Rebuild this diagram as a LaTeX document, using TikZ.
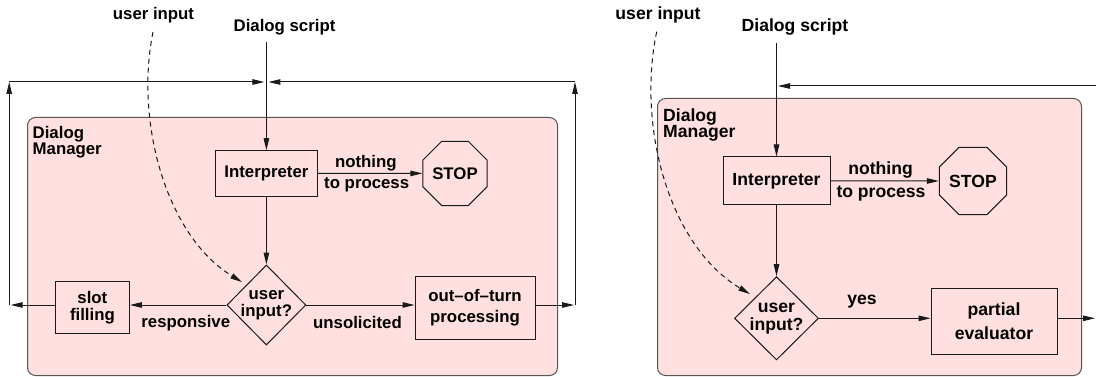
\documentclass[tikz,border=0pt]{standalone}
\usepackage{fontspec}
\setmainfont{Liberation Sans}
\usetikzlibrary{shapes.geometric,arrows.meta}
\definecolor{dmpink}{RGB}{255,223,223}
\definecolor{dmedge}{RGB}{85,85,85}
\tikzset{
  fl/.style={line width=1pt, draw=black!90, -{Triangle[length=12pt,width=5.5pt]}},
  box/.style={draw=black!90, line width=1pt, inner sep=0pt, align=center},
  dmbox/.style={draw=dmedge, line width=1pt, fill=dmpink, rounded corners=8pt, inner sep=0pt, anchor=north west},
  oct/.style={draw=black!90, line width=1pt, regular polygon, regular polygon sides=8, inner sep=0pt},
  dia/.style={draw=black!90, line width=1pt, diamond, inner sep=0pt},
  txt/.style={inner sep=0pt, align=center},
  fontL/.style={font=\fontsize{16.8pt}{17pt}\selectfont\bfseries},
  fontR/.style={font=\fontsize{17.6pt}{17.8pt}\selectfont\bfseries},
}
\begin{document}
\begin{tikzpicture}[x=1pt,y=-1pt]
\useasboundingbox (0,0) rectangle (1096,377);

% ---------------- left diagram ----------------
\begin{scope}[fontL]
\node[dmbox, minimum width=530, minimum height=258] (dmL) at (27,117) {};
\node[txt] (uiL) at (153.5,15) {user input};
\node[txt] (dsL) at (284.5,27) {Dialog script};
\node[txt, anchor=west, align=left, font=\fontsize{16.8pt}{16.5pt}\selectfont\bfseries] (dmtL) at (32.5,142) {Dialog\\Manager};
\node[box, minimum width=102.6, minimum height=45.3] (intL) at (266.4,173.4) {Interpreter};
\node[oct, minimum size=62.8] (stopL) at (455,173.4) {STOP};
\node[dia, minimum width=79, minimum height=80] (diaL) at (266.4,305) {};
\node[txt] (diatL) at (diaL) {user\\input?};
\node[box, minimum width=74, minimum height=51.6] (slotL) at (92.4,307.5) {slot\\filling};
\node[box, minimum width=120, minimum height=63.3, font=\fontsize{16.8pt}{21pt}\selectfont\bfseries] (ootL) at (475,307.7) {out--of--turn\\processing};
\node[txt] (nothL) at (365.8,162.7) {nothing};
\node[txt] (tprL) at (366.7,185) {to process};
\node[txt] (respL) at (185.8,322.7) {responsive};
\node[txt] (unsL) at (357.5,322.7) {unsolicited};

\coordinate (dsLs) at (266.4,42);
\coordinate (topL) at (266.4,82);
\coordinate (lbL) at (9.2,305);
\coordinate (ltL) at (9.2,82);
\coordinate (rbL) at (575,305);
\coordinate (rtL) at (575,82);
\coordinate (uiLs) at (153,32);

\draw[fl] (dsLs) -- (intL.north);
\draw[fl] (intL.east) -- (stopL.west);
\draw[fl] (intL.south) -- (diaL.north);
\draw[fl] (diaL.west) -- (diaL.west -| slotL.east);
\draw[fl] (diaL.east) -- (diaL.east -| ootL.west);
\draw[fl] (diaL.east -| ootL.east) -- ([xshift=-1]rbL);
\draw[fl] (diaL.west -| slotL.west) -- ([xshift=1.5]lbL);
\draw[fl] (lbL) -- (ltL);
\draw[fl] (ltL) -- ([xshift=-2]topL);
\draw[fl] (rbL) -- (rtL);
\draw[fl] (rtL) -- ([xshift=2]topL);
\draw[fl, dash pattern=on 5pt off 4pt, shorten >=5pt] (uiLs) .. controls (135,120) and (165,235) .. (diaL.north west);
\end{scope}

% ---------------- right diagram ----------------
\begin{scope}[fontR]
\node[dmbox, minimum width=424, minimum height=277] (dmR) at (657,98) {};
\node[txt] (uiR) at (658,15) {user input};
\node[txt] (dsR) at (795,27) {Dialog script};
\node[txt, anchor=west, align=left, font=\fontsize{17.6pt}{16.5pt}\selectfont\bfseries] (dmtR) at (663,125) {Dialog\\Manager};
\node[box, minimum width=107, minimum height=48] (intR) at (776.5,181) {Interpreter};
\node[oct, minimum size=64.4] (stopR) at (973,181) {STOP};
\node[dia, minimum width=84, minimum height=83.3] (diaR) at (776.5,318.3) {};
\node[txt] (diatR) at (diaR) {user\\input?};
\node[box, minimum width=126, minimum height=66, font=\fontsize{17.6pt}{24.4pt}\selectfont\bfseries] (peR) at (994,321.3) {partial\\evaluator};
\node[txt] (nothR) at (880.5,170) {nothing};
\node[txt] (tprR) at (881,194) {to process};
\node[txt] (yesR) at (862,301.7) {yes};

\coordinate (dsRs) at (776.5,43);
\coordinate (joinR) at (778,86);
\coordinate (edgeRt) at (1096,86);
\coordinate (edgeRb) at (1095,318.3);
\coordinate (uiRs) at (656.7,31.7);

\draw[fl] (dsRs) -- (intR.north);
\draw[fl] (edgeRt) -- (joinR);
\draw[fl] (intR.east) -- (stopR.west);
\draw[fl] (intR.south) -- (diaR.north);
\draw[fl] (diaR.east) -- (diaR.east -| peR.west);
\draw[fl] (diaR.east -| peR.east) -- (edgeRb);
\draw[fl, dash pattern=on 5pt off 4pt, shorten >=6pt] (uiRs) .. controls (637,125) and (668,245) .. (diaR.north west);
\end{scope}
\end{tikzpicture}
\end{document}
